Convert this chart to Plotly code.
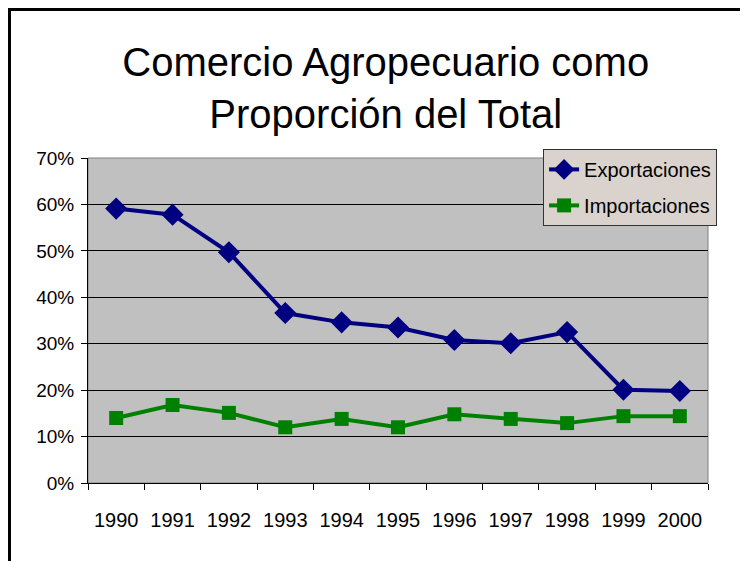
import plotly.graph_objects as go

years = ["1990", "1991", "1992", "1993", "1994", "1995", "1996", "1997", "1998", "1999", "2000"]
exportaciones = [0.591, 0.578, 0.497, 0.366, 0.346, 0.335, 0.308, 0.301, 0.325, 0.201, 0.198]
importaciones = [0.140, 0.168, 0.151, 0.120, 0.138, 0.120, 0.148, 0.138, 0.129, 0.144, 0.144]
y_ticks = [0, 0.1, 0.2, 0.3, 0.4, 0.5, 0.6, 0.7]
y_labels = ["0%", "10%", "20%", "30%", "40%", "50%", "60%", "70%"]

FONT = "Liberation Sans, Arial, sans-serif"

fig = go.Figure()
fig.add_trace(go.Scatter(
    x=years, y=exportaciones, name="Exportaciones", mode="lines+markers",
    legendgroup="exp",
    line=dict(color="#000080", width=4),
    marker=dict(symbol="diamond", size=17, color="#000080"),
))
fig.add_trace(go.Scatter(
    x=years, y=importaciones, name="Importaciones", mode="lines+markers",
    legendgroup="imp",
    line=dict(color="#008000", width=4),
    marker=dict(symbol="square", size=14, color="#008000"),
))

fig.update_layout(
    width=748, height=561,
    margin=dict(l=80, r=48, t=150, b=86),
    paper_bgcolor="white",
    plot_bgcolor="#C0C0C0",
    font=dict(family=FONT, color="black"),
    title=dict(
        text="Comercio Agropecuario como<br>Proporción del Total",
        x=0.505, xanchor="center", y=0.878, yanchor="middle",
        font=dict(size=40, family=FONT),
    ),
    showlegend=True,
    legend=dict(
        x=0.734, y=1.028, xanchor="left", yanchor="top",
        bgcolor="#DAD3CD", bordercolor="#333333", borderwidth=1,
        font=dict(size=20, family=FONT),
        traceorder="grouped", tracegroupgap=7,
    ),
    xaxis=dict(
        type="category", range=[-0.5, 10.5],
        showline=True, linecolor="black", linewidth=1,
        ticks="outside", tickson="boundaries", ticklen=6, tickcolor="black",
        showgrid=False, tickfont=dict(size=20), ticklabelstandoff=19,
    ),
    yaxis=dict(
        range=[0, 0.7], tickvals=y_ticks, ticktext=y_labels,
        showline=True, linecolor="black", linewidth=1,
        ticks="outside", ticklen=6, tickcolor="black",
        showgrid=True, gridcolor="black", gridwidth=1,
        zeroline=False, tickfont=dict(size=19), ticklabelstandoff=3,
    ),
    shapes=[
        dict(type="rect", xref="paper", yref="paper", x0=0, y0=0, x1=1, y1=1,
             line=dict(color="#808080", width=1), layer="below"),
        dict(type="rect", xref="paper", yref="paper", x0=-0.1266, y0=-0.4, x1=1.2, y1=1.457,
             line=dict(color="black", width=3)),
    ],
)

fig.write_html("out.html")
